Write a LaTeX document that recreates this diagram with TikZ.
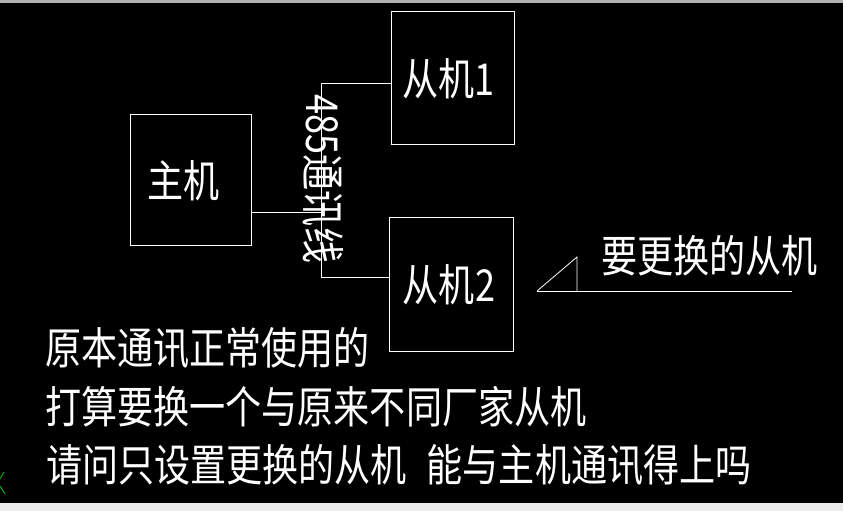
\documentclass[tikz,border=0pt]{standalone}
\usepackage{fontspec}
\setmainfont{Noto Sans CJK SC}[FakeStretch=0.82]
\usepackage{tikz}
\usetikzlibrary{positioning}
\tikzstyle{caja} = [draw=white, line width=1pt, rectangle, text=white, font=\fontsize{44}{46}\selectfont, inner sep=0pt]
\tikzstyle{texto} = [text=white, font=\fontsize{44}{46}\selectfont, inner sep=0pt, anchor=west]
\tikzstyle{linea} = [draw=white, line width=1pt]

\begin{document}
\begin{tikzpicture}[x=1pt, y=1pt]
	\fill[black] (0,0) rectangle (843,511);
	\useasboundingbox (0,0) rectangle (843,511);
	\fill[gray!60] (0,508) rectangle (843,511);
	\fill[gray!15] (0,0) rectangle (843,8);
	\draw[green!80!black, line width=0.8pt] (4,39) -- (0,32) (0,25) -- (5,17);
	% equipos
	\node [caja, minimum width=121pt, minimum height=131pt] (zhuji) at (190.5,330.5) {\raisebox{-7pt}{\hspace{-14pt}主机}};
	\node [caja, minimum width=123pt, minimum height=133pt] (cong1) at (452.5,432.5) {\raisebox{-7pt}{\hspace{-8pt}从机1}};
	\node [caja, minimum width=124pt, minimum height=134pt] (cong2) at (451,226) {\raisebox{-7pt}{\hspace{-4pt}从机2}};
	% bus 485
	\coordinate (jt) at (321,427);
	\coordinate (jm) at (321,298);
	\coordinate (jb) at (321,233);
	\draw[linea] (zhuji.east |- jm) -- (jm);
	\draw[linea] (cong1.west |- jt) -- (jt) -- (jb) -- (cong2.west |- jb);
	\node [texto, anchor=center, rotate=-90] (bus) at (323,332) {485通讯线};
	% indicador
	\coordinate (p0) at (537,220);
	\coordinate (p1) at (577,254);
	\coordinate (p2) at (577,220);
	\coordinate (p3) at (792,220);
	\draw[linea, line width=0.8pt] (p0) -- (p1) -- (p2);
	\draw[linea, line width=0.8pt] (p0) -- (p3);
	\node [texto] (nota) at (601,255) {要更换的从机};
	% pregunta
	\node [texto] (l1) at (45,163) {原本通讯正常使用的};
	\node [texto] (l2) at (45,104) {打算要换一个与原来不同厂家从机};
	\node [texto] (l3) at (46,46) {请问只设置更换的从机\hspace{0.45em}能与主机通讯得上吗};
\end{tikzpicture}
\end{document}
